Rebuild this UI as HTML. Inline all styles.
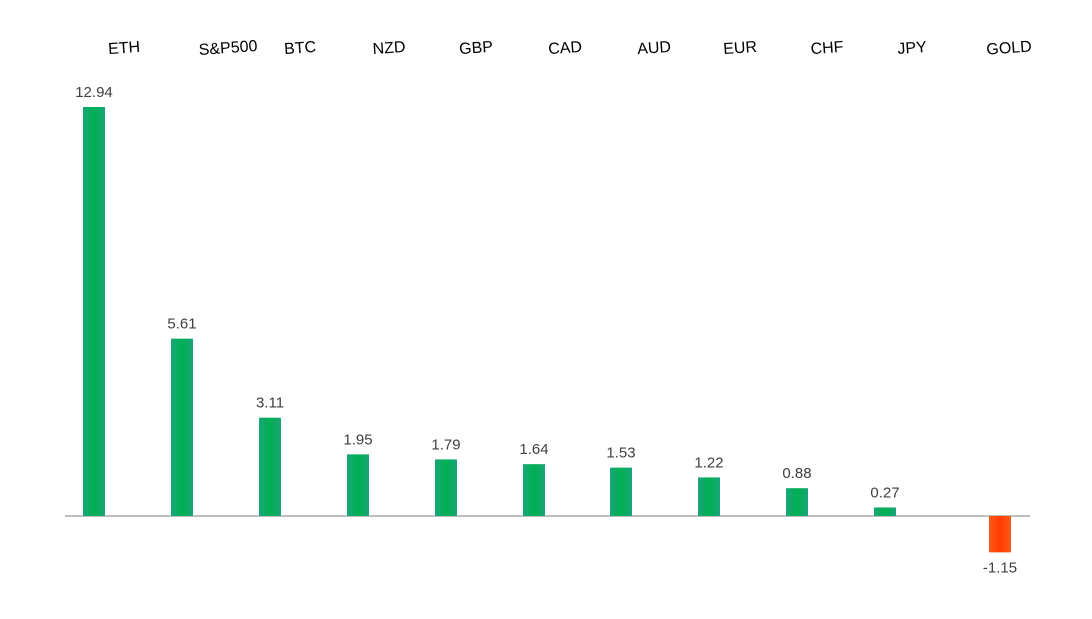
<!DOCTYPE html>
<html><head><meta charset="utf-8"><style>
body{margin:0;background:#fff;width:1092px;height:614px;overflow:hidden;font-family:"Liberation Sans",sans-serif}
</style></head><body>
<svg id="chart" width="1092" height="614" xmlns="http://www.w3.org/2000/svg">
<defs>
<linearGradient id="g" x1="0" x2="1"><stop offset="0" stop-color="#1aa57a"/><stop offset="0.5" stop-color="#00b050"/><stop offset="1" stop-color="#1aa57a"/></linearGradient>
<linearGradient id="r" x1="0" x2="1"><stop offset="0" stop-color="#ff5a1a"/><stop offset="0.5" stop-color="#ff3c00"/><stop offset="1" stop-color="#ff5a1a"/></linearGradient>
</defs>
<line x1="65" x2="1030" y1="516" y2="516" stroke="#bfbfbf" stroke-width="2"/>
</svg>
<script>
const categories=["ETH","S&P500","BTC","NZD","GBP","CAD","AUD","EUR","CHF","JPY","GOLD"];
const values=[12.94,5.61,3.11,1.95,1.79,1.64,1.53,1.22,0.88,0.27,-1.15];
const valueLabels=["12.94","5.61","3.11","1.95","1.79","1.64","1.53","1.22","0.88","0.27","-1.15"];
const barX=[94,182,270,358,446,534,621,709,797,885,1000];
const catX=[124,228,300,389,476,565,654,740,827,912,1009];
const svg=document.getElementById('chart');
const NS="http://www.w3.org/2000/svg";
const y0=516, scale=409/12.94;
function y(v){return y0-v*scale;}
categories.forEach((c,i)=>{
  const v=values[i], cx=barX[i];
  const r=document.createElementNS(NS,'rect');
  
  
  r.setAttribute('x',cx-11);r.setAttribute('width',22);
  r.setAttribute('y',Math.min(y(v),y0));r.setAttribute('height',Math.abs(y(v)-y0));
  r.setAttribute('fill',v>=0?'url(#g)':'url(#r)');
  svg.appendChild(r);
  const t=document.createElementNS(NS,'text');
  
  
  t.setAttribute('x',cx);t.setAttribute('y',v>=0?y(v)-10:y(v)+20);
  t.setAttribute('text-anchor','middle');t.setAttribute('font-size','15');t.setAttribute('fill','#404040');
  t.textContent=valueLabels[i];svg.appendChild(t);
  const l=document.createElementNS(NS,'text');
  
  
  l.setAttribute('x',catX[i]);l.setAttribute('y',53);
  l.setAttribute('text-anchor','middle');l.setAttribute('font-size','16');l.setAttribute('fill','#000');
  l.setAttribute('transform','rotate(-4 '+catX[i]+' 47)');
  l.textContent=c;svg.appendChild(l);
});
</script>
</body></html>
